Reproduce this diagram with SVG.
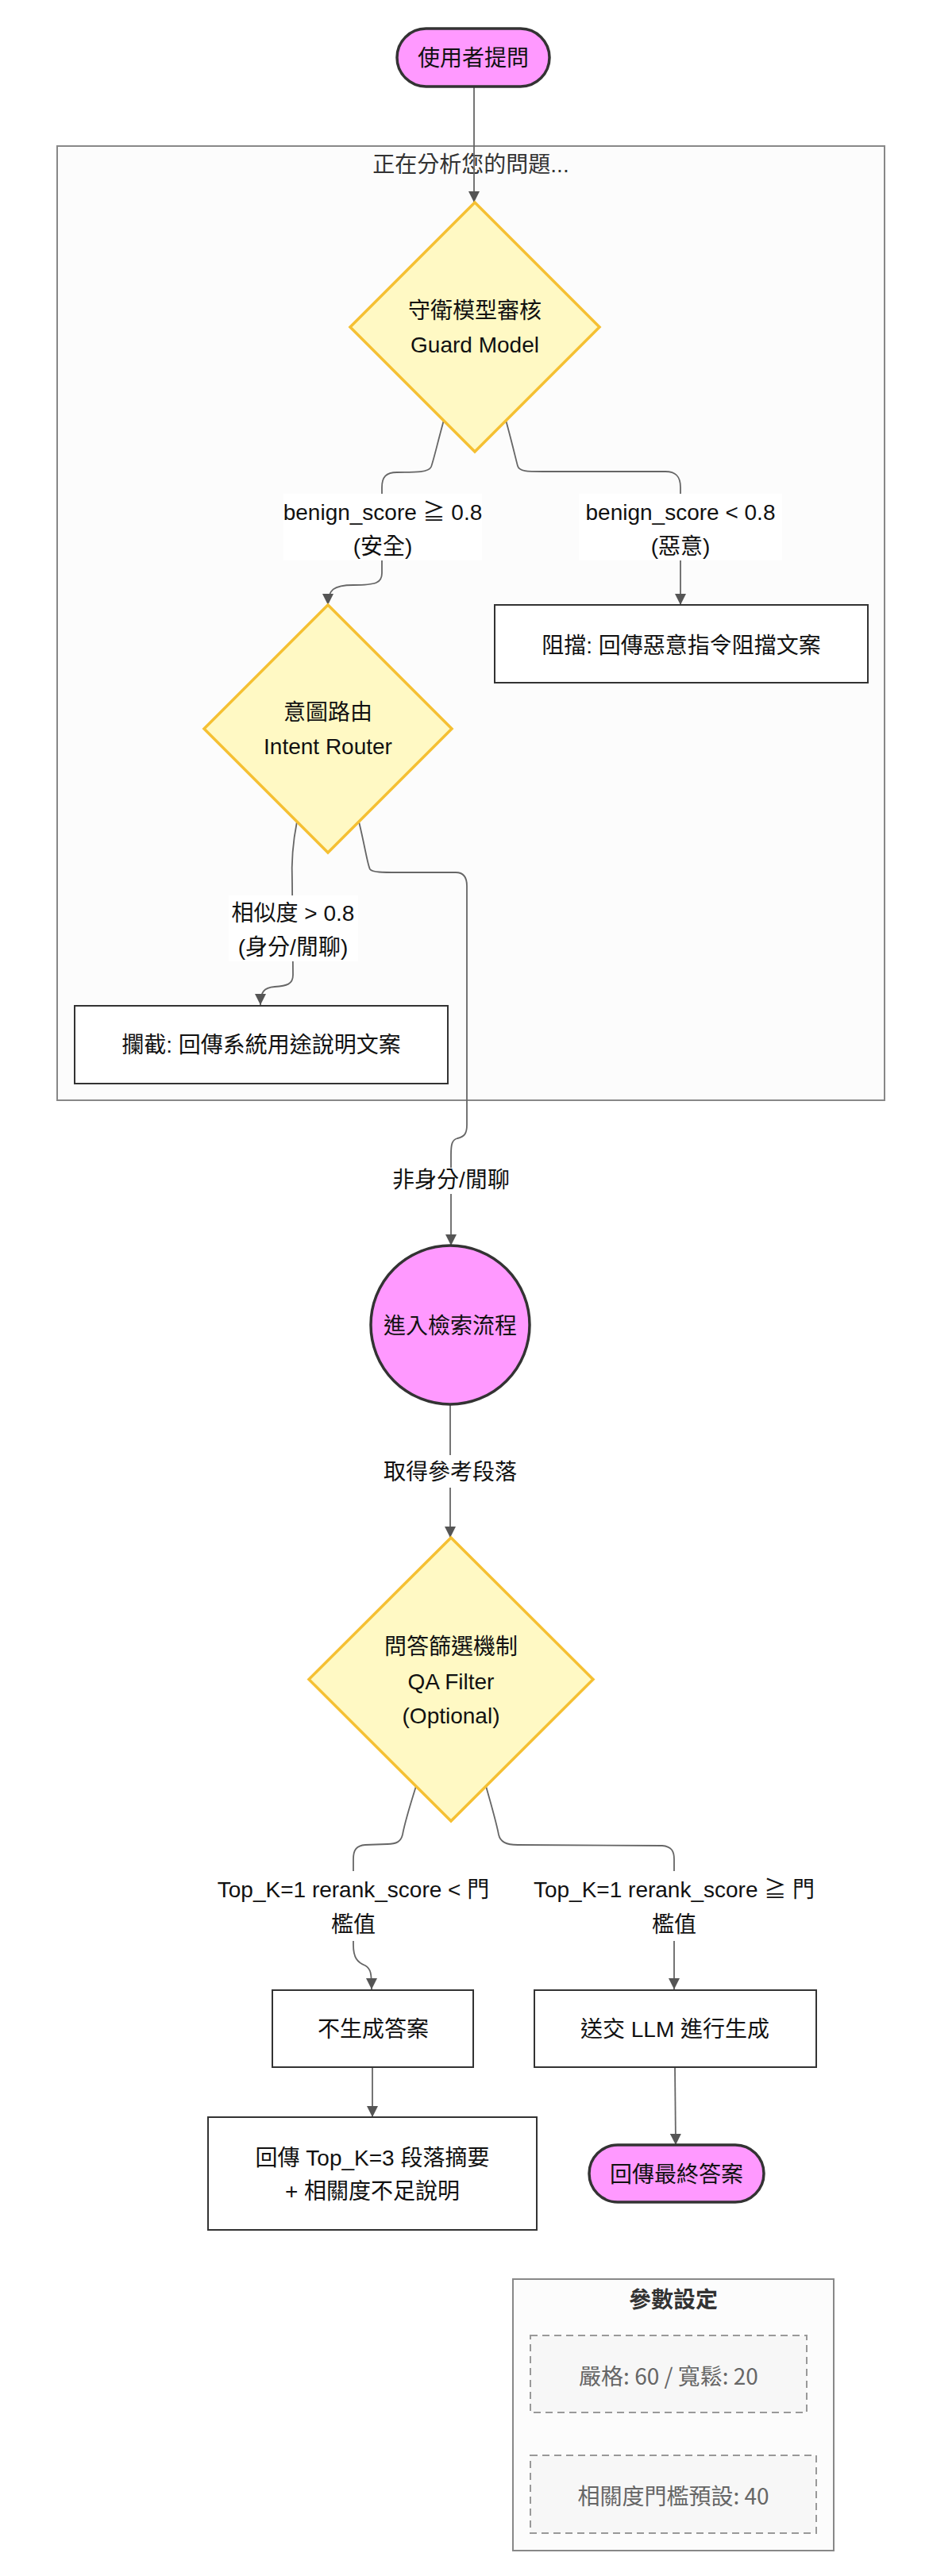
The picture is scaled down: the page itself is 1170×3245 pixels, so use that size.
<svg xmlns="http://www.w3.org/2000/svg" width="1170" height="3245" viewBox="0 0 1170 3245">
<defs>
<marker id="arrow" viewBox="0 0 10 10" refX="10" refY="5" markerWidth="14" markerHeight="14" markerUnits="userSpaceOnUse" orient="auto">
<path d="M0,0 L10,5 L0,10 z" fill="#555"/>
</marker>
<style>
text{font-family:"Liberation Sans","Noto Sans CJK TC",sans-serif;font-size:28px;fill:#111;text-anchor:middle;dominant-baseline:central}
.cluster{fill:#fcfcfc;stroke:#888;stroke-width:2}
.term{fill:#ff99ff;stroke:#333;stroke-width:3.5}
.dec{fill:#fff9c4;stroke:#f5c033;stroke-width:3.5}
.box{fill:#fff;stroke:#333;stroke-width:2}
.edge{fill:none;stroke:#666;stroke-width:1.8;marker-end:url(#arrow)}
.lbl{fill:#fff}
.dash{fill:#f7f7f7;stroke:#999;stroke-width:2;stroke-dasharray:9 6}
.ctitle{fill:#333}
.ptext{font-family:"Noto Sans CJK TC","Noto Sans",sans-serif;fill:#666}
.ptitle{font-family:"Noto Sans CJK TC","Noto Sans",sans-serif;fill:#333;font-weight:bold}
</style>
</defs>
<rect width="1170" height="3245" fill="#fff"/>

<g id="cluster-analysis">
<rect class="cluster" x="72" y="184" width="1042" height="1202"/>
<text class="ctitle" x="593" y="207">正在分析您的問題...</text>
</g>

<g id="cluster-params">
<rect class="cluster" x="646" y="2871" width="404" height="342"/>
<text class="ptitle" x="848" y="2895">參數設定</text>
</g>

<g id="connectors">
<path class="edge" d="M597,110 L597,255"/>
<path class="edge" d="M559,529 C550,562 546,580 543,588 C540,595 525,595 500,595 C486,595 481,601 481,614 L481,722 C481,734 474,737 445,737 C420,737 413,743 413,762"/>
<path class="edge" d="M637,529 C646,562 650,580 652,587 C654,594 664,594 684,594 L838,594 C851,594 857,600 857,614 L857,762"/>
<path class="edge" d="M374,1035 C368,1065 367,1090 368,1112 L369,1228 C369,1240 361,1242 346,1243 C332,1244 328,1250 328,1266"/>
<path class="edge" d="M452,1035 C460,1068 463,1090 466,1095 C469,1099 482,1099 502,1099 L574,1099 C584,1099 588,1105 588,1116 L588,1417 C588,1428 585,1432 576,1434 C569,1436 568,1442 568,1455 L568,1569"/>
<path class="edge" d="M567,1769 L567,1937"/>
<path class="edge" d="M524,2250 C513,2285 509,2300 507,2311 C505,2320 499,2323 488,2323 L460,2324 C449,2325 445,2330 445,2342 L445,2450 C445,2466 450,2472 460,2476 C467,2480 468,2486 468,2506"/>
<path class="edge" d="M612,2250 C622,2285 626,2300 628,2311 C630,2320 637,2324 652,2324 L834,2325 C845,2326 849,2331 849,2342 L849,2506"/>
<path class="edge" d="M469,2604 L469,2667"/>
<path class="edge" d="M850,2604 L851,2702"/>

<rect class="lbl" x="357" y="622" width="250" height="84"/>
<text x="482" y="645">benign_score ≧ 0.8</text>
<text x="482" y="688">(安全)</text>

<rect class="lbl" x="729" y="622" width="256" height="84"/>
<text x="857" y="645">benign_score &lt; 0.8</text>
<text x="857" y="688">(惡意)</text>

<rect class="lbl" x="288" y="1128" width="163" height="83"/>
<text x="369" y="1150">相似度 &gt; 0.8</text>
<text x="369" y="1193">(身分/閒聊)</text>

<rect class="lbl" x="494" y="1471" width="149" height="33"/>
<text x="568" y="1486">非身分/閒聊</text>

<rect class="lbl" x="482" y="1833" width="171" height="41"/>
<text x="567" y="1854">取得參考段落</text>

<rect class="lbl" x="269" y="2357" width="352" height="88"/>
<text x="445" y="2380">Top_K=1 rerank_score &lt; 門</text>
<text x="445" y="2424">檻值</text>

<rect class="lbl" x="674" y="2357" width="352" height="88"/>
<text x="849" y="2380">Top_K=1 rerank_score ≧ 門</text>
<text x="849" y="2424">檻值</text>
</g>

<g id="node-start">
<rect class="term" x="500" y="36" width="192" height="73" rx="36.5"/>
<text x="596" y="73">使用者提問</text>
</g>

<g id="node-guard">
<polygon class="dec" points="598,255 755,412 598,569 441,412"/>
<text x="598" y="391">守衛模型審核</text>
<text x="598" y="434">Guard Model</text>
</g>

<g id="node-block">
<rect class="box" x="623" y="762" width="470" height="98"/>
<text x="858" y="813">阻擋: 回傳惡意指令阻擋文案</text>
</g>

<g id="node-intent">
<polygon class="dec" points="413,762 569,918 413,1074 257,918"/>
<text x="413" y="897">意圖路由</text>
<text x="413" y="940">Intent Router</text>
</g>

<g id="node-intercept">
<rect class="box" x="94" y="1267" width="470" height="98"/>
<text x="329" y="1316">攔截: 回傳系統用途說明文案</text>
</g>

<g id="node-retrieval">
<circle class="term" cx="567" cy="1669" r="100"/>
<text x="567" y="1670">進入檢索流程</text>
</g>

<g id="node-qa">
<polygon class="dec" points="568,1937 747,2115.5 568,2294 389,2115.5"/>
<text x="568" y="2074">問答篩選機制</text>
<text x="568" y="2118">QA Filter</text>
<text x="568" y="2161">(Optional)</text>
</g>

<g id="node-nogen">
<rect class="box" x="343" y="2507" width="253" height="97"/>
<text x="470" y="2556">不生成答案</text>
</g>

<g id="node-llm">
<rect class="box" x="673" y="2507" width="355" height="97"/>
<text x="850" y="2556">送交 LLM 進行生成</text>
</g>

<g id="node-summary">
<rect class="box" x="262" y="2667" width="414" height="142"/>
<text x="469" y="2718">回傳 Top_K=3 段落摘要</text>
<text x="469" y="2760">+ 相關度不足說明</text>
</g>

<g id="node-final">
<rect class="term" x="742" y="2702" width="220" height="72" rx="36"/>
<text x="852" y="2739">回傳最終答案</text>
</g>

<g id="node-strict">
<rect class="dash" x="668" y="2942" width="348" height="97"/>
<text class="ptext" x="842" y="2992">嚴格: 60 / 寬鬆: 20</text>
</g>

<g id="node-threshold">
<rect class="dash" x="668" y="3093" width="360" height="98"/>
<text class="ptext" x="848" y="3143">相關度門檻預設: 40</text>
</g>
</svg>
